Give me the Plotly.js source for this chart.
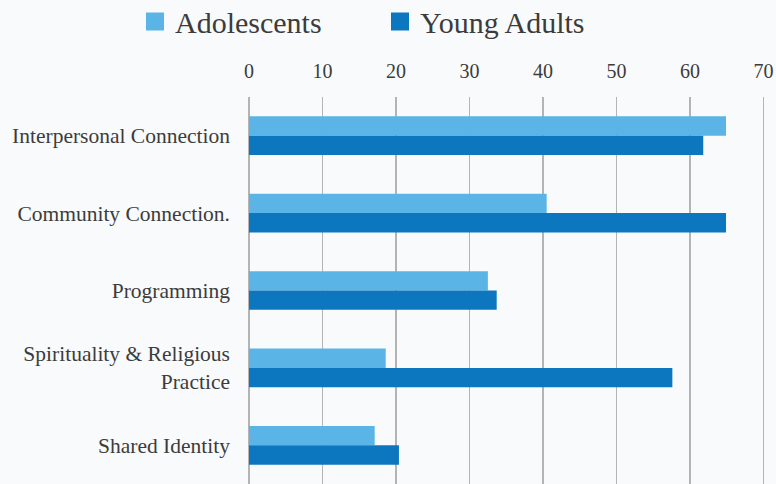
<!DOCTYPE html>
<html>
<head>
<meta charset="utf-8">
<script src="https://cdn.plot.ly/plotly-3.0.1.min.js"></script>
<style>
  html, body { margin: 0; padding: 0; background: #f9fafc; }
  #chart { width: 776px; height: 484px; }
</style>
</head>
<body>
<div id="chart"></div>
<script>
const categories = [
  "Interpersonal Connection",
  "Community Connection.",
  "Programming",
  "Spirituality & Religious Practice",
  "Shared Identity"
];
const categoryLabels = [
  "Interpersonal Connection",
  "Community Connection.",
  "Programming",
  "Spirituality &amp; Religious<br>Practice",
  "Shared Identity"
];
const seriesNames = ["Adolescents", "Young Adults"];
const seriesColors = ["#5ab5e6", "#0c77bf"];
const adolescents = [64.9, 40.5, 32.5, 18.6, 17.1];
const youngAdults = [61.8, 64.9, 33.7, 57.6, 20.4];
const xTicks = [0, 10, 20, 30, 40, 50, 60, 70];

const FONT = "Liberation Serif";
const TEXT = "#3c3c3c";

const seriesValues = [adolescents, youngAdults];
const barTraces = seriesValues.map((vals, i) => ({
  type: "bar", orientation: "h", name: seriesNames[i],
  y: categories, x: vals, marker: { color: seriesColors[i] },
  showlegend: false, hoverinfo: "x+y+name"
}));
// legend-only entries (larger square swatches than the default bar swatch)
const legendTraces = seriesNames.map((n, i) => ({
  type: "scatter", mode: "markers", name: n, x: [null], y: [null],
  marker: { symbol: "square", size: 16, color: seriesColors[i],
            line: { width: 2, color: seriesColors[i] } },
  showlegend: true, hoverinfo: "skip"
}));

const layout = {
  width: 776, height: 484,
  paper_bgcolor: "#f9fafc", plot_bgcolor: "#f9fafc",
  margin: { l: 249, r: 0, t: 97, b: 0, pad: 0 },
  barmode: "group", bargap: 0.5, bargroupgap: 0,
  font: { family: FONT, color: TEXT, size: 20 },
  showlegend: true,
  legend: {
    orientation: "h", xref: "container", yref: "container",
    x: 135 / 776, xanchor: "left", y: 1 - 21.5 / 484, yanchor: "middle",
    entrywidth: 200, entrywidthmode: "pixels",
    font: { family: FONT, size: 30, color: TEXT },
    bgcolor: "rgba(0,0,0,0)", traceorder: "normal"
  },
  xaxis: {
    side: "top", range: [0, 71.7], tickvals: xTicks, ticktext: xTicks.map(String),
    showgrid: true, gridcolor: "#b4b4b4", gridwidth: 1.5,
    zeroline: true, zerolinecolor: "#b4b4b4", zerolinewidth: 1.5,
    showline: false, ticks: "", ticklabelstandoff: 14,
    tickfont: { family: FONT, size: 20, color: TEXT }, fixedrange: true
  },
  yaxis: {
    type: "category", autorange: "reversed",
    tickvals: categories, ticktext: categoryLabels,
    showgrid: false, zeroline: false, showline: false, ticks: "",
    ticklabelstandoff: 18,
    tickfont: { family: FONT, size: 21.5, color: TEXT }, fixedrange: true
  }
};

Plotly.newPlot("chart", barTraces.concat(legendTraces), layout, { displayModeBar: false, staticPlot: true });
</script>
</body>
</html>
